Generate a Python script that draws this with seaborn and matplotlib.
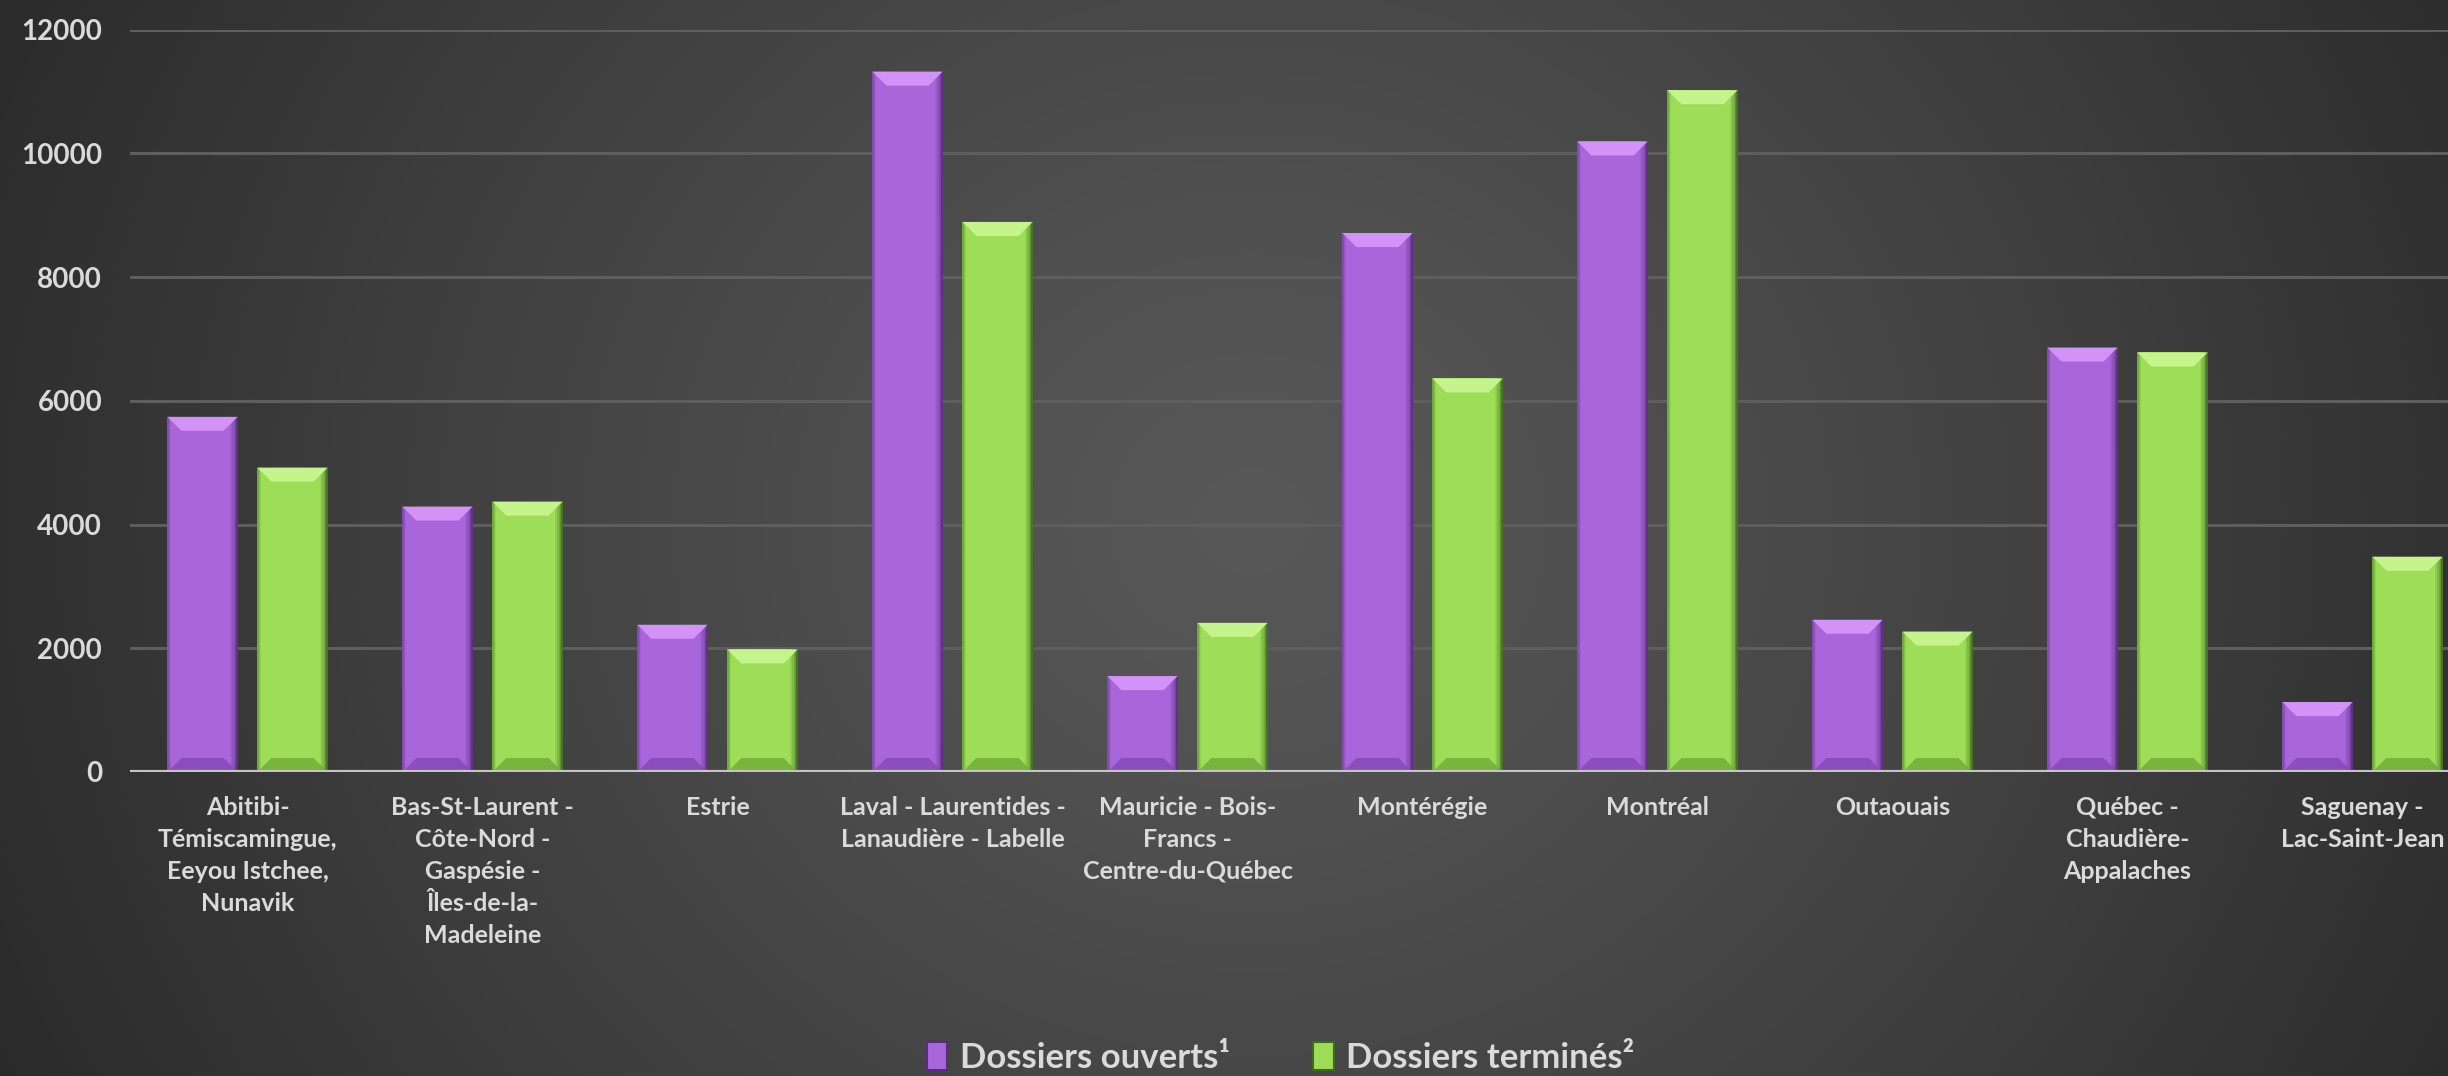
import numpy as np
import pandas as pd
import matplotlib
matplotlib.use("Agg")
import matplotlib.pyplot as plt
import seaborn as sns
from matplotlib.patches import Polygon, Patch

# -------------------------------
# DATA
# -------------------------------
regions = [
    "Abitibi-\nTémiscamingue,\nEeyou Istchee,\nNunavik",
    "Bas-St-Laurent -\nCôte-Nord -\nGaspésie -\nÎles-de-la-\nMadeleine",
    "Estrie",
    "Laval - Laurentides -\nLanaudière - Labelle",
    "Mauricie - Bois-\nFrancs -\nCentre-du-Québec",
    "Montérégie",
    "Montréal",
    "Outaouais",
    "Québec -\nChaudière-\nAppalaches",
    "Saguenay -\nLac-Saint-Jean",
]
dossiers_ouverts = [5740, 4290, 2380, 11320, 1550, 8710, 10190, 2460, 6860, 1130]
dossiers_termines = [4920, 4370, 1980, 8890, 2410, 6360, 11020, 2270, 6780, 3480]
series = ["Dossiers ouverts¹", "Dossiers terminés²"]
yticks = [0, 2000, 4000, 6000, 8000, 10000, 12000]

df = pd.DataFrame({
    "region": regions * 2,
    "valeur": dossiers_ouverts + dossiers_termines,
    "serie": [series[0]] * len(regions) + [series[1]] * len(regions),
})

# colours: (main, top bevel, bottom bevel, side shade)
purple = ("#a866da", "#d392f8", "#8548b5", "#5a2c7e")
green = ("#9ddd58", "#c6f48c", "#70ab38", "#3f6a1f")
text_col = "#dadada"

sns.set_theme(style="dark")
plt.rcParams["font.family"] = ["Lato", "DejaVu Sans"]
plt.rcParams["font.weight"] = "bold"

W, H = 2448, 1076
fig = plt.figure(figsize=(W / 100, H / 100), dpi=100)

# -------------------------------
# BACKGROUND GRADIENT
# -------------------------------
bg = fig.add_axes([0, 0, 1, 1], zorder=-10)
yy, xx = np.mgrid[0:H:4, 0:W:4]
t = np.sqrt(((xx - 1250) / 1250) ** 2 + ((yy - 520) / 1150) ** 2)
t = np.clip(t, 0, 1.2)
lum = (0x58 - 0x32 * (t / 1.2) ** 1.2) / 255
bg.imshow(np.dstack([lum, lum, lum]), aspect="auto", extent=[0, 1, 0, 1])
bg.set_axis_off()

# -------------------------------
# BARS
# -------------------------------
left_px, base_px, top_px = 130, 772, 29.5
group_px = 235
ax = fig.add_axes([left_px / W, (H - base_px) / H, (W - left_px) / W, (base_px - top_px) / H])
ax.patch.set_alpha(0)

sns.barplot(data=df, x="region", y="valeur", hue="serie",
            palette=[purple[0], green[0]], saturation=1, linewidth=0,
            width=0.766, gap=0.22, legend=False, ax=ax, zorder=3)

ax.set_ylim(0, 12000)
ax.set_xlim(-0.5, -0.5 + (W - left_px) / group_px)

# bevel effect on each bar
ax_w_px = W - left_px
ax_h_px = base_px - top_px
dx_unit = (ax.get_xlim()[1] - ax.get_xlim()[0]) / ax_w_px
dy_unit = 12000 / ax_h_px
bev = 14
for p in list(ax.patches):
    h = p.get_height()
    if h <= 0:
        continue
    x0, w = p.get_x(), p.get_width()
    cols = purple if p.get_facecolor()[1] < 0.6 else green
    dx, dy = bev * dx_unit, bev * dy_unit
    # side shading (darker right edge, lighter shade on the left)
    for k, a in enumerate([0.9, 0.65, 0.45, 0.3, 0.18, 0.08]):
        xs = x0 + w - (k + 1) * dx_unit * 1.3
        ax.add_patch(Polygon([(xs, 0), (xs + 1.3 * dx_unit, 0),
                              (xs + 1.3 * dx_unit, h), (xs, h)],
                             closed=True, fc=cols[3], alpha=a, ec="none", zorder=4))
    for k, a in enumerate([0.45, 0.25, 0.1]):
        xs = x0 + k * dx_unit * 1.3
        ax.add_patch(Polygon([(xs, 0), (xs + 1.3 * dx_unit, 0),
                              (xs + 1.3 * dx_unit, h), (xs, h)],
                             closed=True, fc=cols[3], alpha=a, ec="none", zorder=4))
    ax.add_patch(Polygon([(x0, h), (x0 + w, h), (x0 + w - dx, h - dy), (x0 + dx, h - dy)],
                         closed=True, fc=cols[1], ec="none", zorder=5))
    ax.add_patch(Polygon([(x0, 0), (x0 + w, 0), (x0 + w - dx, dy), (x0 + dx, dy)],
                         closed=True, fc=cols[2], alpha=0.8, ec="none", zorder=5))

# -------------------------------
# AXES STYLE
# -------------------------------
ax.set_yticks(yticks)
ax.yaxis.grid(True, color="#5e5e5e", lw=2.2, zorder=0)
ax.xaxis.grid(False)
ax.set_axisbelow(True)
for s in ax.spines.values():
    s.set_visible(False)
ax.axhline(0, color="#c4c4c4", lw=3, zorder=6)

ax.set_xlabel("")
ax.set_ylabel("")
ax.tick_params(axis="y", length=0, pad=20, labelsize=20, labelcolor=text_col)
ax.tick_params(axis="x", length=0, pad=17, labelsize=18, labelcolor=text_col)
for lab in ax.get_yticklabels():
    lab.set_fontweight("bold")
for lab in ax.get_xticklabels():
    lab.set_fontweight("bold")
    lab.set_linespacing(1.48)
    lab.set_verticalalignment("top")

# -------------------------------
# LEGEND
# -------------------------------
handles = [Patch(fc=purple[0], ec=purple[3], lw=1.5), Patch(fc=green[0], ec=green[3], lw=1.5)]
fig.legend(handles, series, loc="center", bbox_to_anchor=(0.523, (H - 1058) / H),
           ncol=2, frameon=False, labelcolor=text_col,
           prop={"weight": "bold", "size": 25, "family": ["Lato", "DejaVu Sans"]},
           handlelength=0.6, handleheight=0.85, handletextpad=0.35, columnspacing=2.4,
           borderpad=0.2)

fig.savefig("out.png", dpi=100, facecolor="#333333")
